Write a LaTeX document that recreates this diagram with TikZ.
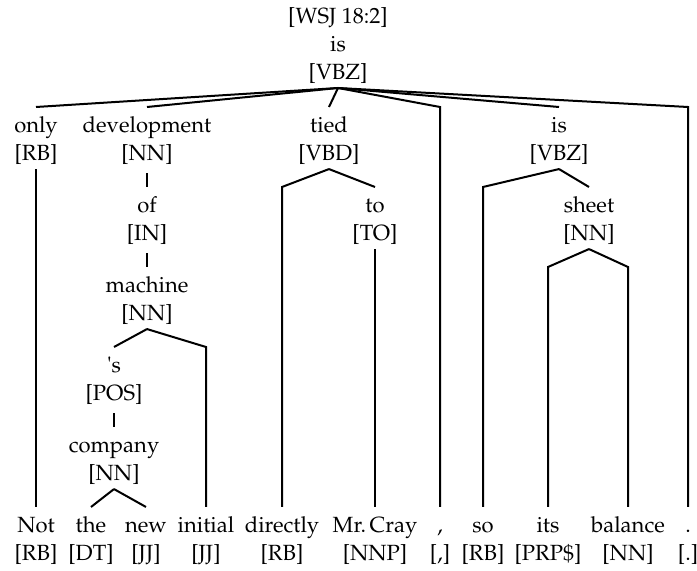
\documentclass[tikz,border=0pt]{standalone}
\usepackage[T1]{fontenc}
\usepackage{mathpazo}
\newcommand{\tall}{\rule{0pt}{11pt}}
\begin{document}
\begin{tikzpicture}[
  x=0.5pt, y=-0.5pt,
  tok/.style={inner sep=0pt, outer ysep=2pt, anchor=north, align=center, font=\fontsize{11}{14}\selectfont},
  link/.style={line width=1pt},
  stem/.style={link, shorten <=2pt}
]
\useasboundingbox (0,0) rectangle (697,571);

\node[tok, anchor=south] (root) at (338,88) {\tall[WSJ 18:2]\\is\\{}[VBZ]};

% first level
\node[tok] (only) at (36,107) {\tall only\\{}[RB]};
\node[tok] (development) at (147,107) {\tall development\\{}[NN]};
\node[tok] (tied) at (329,107) {\tall tied\\{}[VBD]};
\node[tok] (is) at (559,107) {\tall is\\{}[VBZ]};

% inner levels
\node[tok] (of) at (147,187) {\tall of\\{}[IN]};
\node[tok] (machine) at (147,267) {\tall machine\\{}[NN]};
\node[tok] (apos) at (114,347) {\tall\textquotesingle s\\{}[POS]};
\node[tok] (company) at (114,427) {\tall company\\{}[NN]};
\node[tok] (to) at (375,187) {\tall to\\{}[TO]};
\node[tok] (sheet) at (589,187) {\tall sheet\\{}[NN]};

% words of the sentence
\node[tok] (not) at (36,507) {\tall Not\\{}[RB]};
\node[tok] (the) at (91,507) {\tall the\\{}[DT]};
\node[tok] (new) at (146,507) {\tall new\\{}[JJ]};
\node[tok] (initial) at (206,507) {\tall initial\\{}[JJ]};
\node[tok] (directly) at (282,507) {\tall directly\\{}[RB]};
\node[tok] (cray) at (375,507) {\tall Mr.\,Cray\\{}[NNP]};
\node[tok] (comma) at (440,507) {\tall,\\{}[,]};
\node[tok] (so) at (483,507) {\tall so\\{}[RB]};
\node[tok] (its) at (548,507) {\tall its\\{}[PRP\$]};
\node[tok] (balance) at (628,507) {\tall balance\\{}[NN]};
\node[tok] (period) at (688,507) {\tall.\\{}[.]};

% dependencies of the root
\draw[link] (root.south) -- (only.north);
\draw[link] (root.south) -- (development.north);
\draw[link] (root.south) -- (tied.north);
\draw[link] (root.south) -- (comma |- only.north) -- (comma.north);
\draw[link] (root.south) -- (is.north);
\draw[link] (root.south) -- (period |- only.north) -- (period.north);

% subtrees
\draw[link] (only.south) -- (not.north);
\draw[stem] (development.south) -- (of.north);
\draw[stem] (of.south) -- (machine.north);
\draw[link] (machine.south) -- (apos.north);
\draw[link] (machine.south) -- (initial |- apos.north) -- (initial.north);
\draw[stem] (apos.south) -- (company.north);
\draw[link] (company.south) -- (the.north);
\draw[link] (company.south) -- (new.north);
\draw[link] (tied.south) -- (directly |- to.north) -- (directly.north);
\draw[link] (tied.south) -- (to.north);
\draw[link] (to.south) -- (cray.north);
\draw[link] (is.south) -- (so |- sheet.north) -- (so.north);
\draw[link] (is.south) -- (sheet.north);
\draw[link] (sheet.south) -- (its |- machine.north) -- (its.north);
\draw[link] (sheet.south) -- (balance |- machine.north) -- (balance.north);

\end{tikzpicture}
\end{document}
